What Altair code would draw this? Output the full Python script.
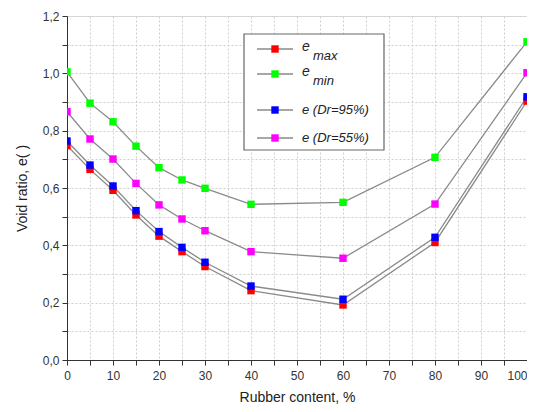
import altair as alt
import pandas as pd

rubber = [0, 5, 10, 15, 20, 25, 30, 40, 60, 80, 100]
e_max = [0.748, 0.665, 0.592, 0.506, 0.432, 0.378, 0.326, 0.242, 0.192, 0.410, 0.903]
e_min = [1.005, 0.896, 0.831, 0.746, 0.671, 0.628, 0.599, 0.543, 0.550, 0.707, 1.110]
e_dr95 = [0.764, 0.680, 0.607, 0.521, 0.448, 0.393, 0.341, 0.258, 0.212, 0.428, 0.918]
e_dr55 = [0.866, 0.771, 0.701, 0.616, 0.541, 0.492, 0.451, 0.378, 0.355, 0.544, 1.002]

series_names = ["e_max", "e_min", "e (Dr=95%)", "e (Dr=55%)"]
series_colors = ["#ff0000", "#00ff00", "#0000ff", "#ff00ff"]
series_values = [e_max, e_min, e_dr95, e_dr55]

rows = []
for order, (name, vals) in enumerate(zip(series_names, series_values)):
    for x, v in zip(rubber, vals):
        rows.append({"series": name, "rubber": x, "e": v, "order": order})
df = pd.DataFrame(rows)

W, H = 460, 344
font = "Liberation Sans"

x_ticks = list(range(0, 101, 5))
y_ticks = [round(i * 0.1, 1) for i in range(0, 13)]

x_enc = alt.X(
    "rubber:Q",
    scale=alt.Scale(domain=[0, 100], nice=False, zero=False),
    axis=alt.Axis(
        values=x_ticks,
        labelExpr="datum.value % 10 == 0 ? datum.label : ''",
        labelAlign=alt.expr("datum.value == 100 ? 'right' : 'center'"),
        title="Rubber content, %",
        grid=True,
        gridDash=[2, 2],
        gridColor="#cfcfcf",
        tickSize=5,
        labelPadding=5,
        titlePadding=9,
        domainColor="#333333",
        tickColor="#333333",
        labelColor="#333333",
        titleColor="#222222",
        labelFontSize=12,
        titleFontSize=14,
        titleFontWeight="normal",
        labelFont=font,
        titleFont=font,
        labelFlush=False,
    ),
)
y_enc = alt.Y(
    "e:Q",
    scale=alt.Scale(domain=[0, 1.2], nice=False, zero=False),
    axis=alt.Axis(
        values=y_ticks,
        labelExpr="(round(datum.value * 10) % 2 == 0) ? replace(format(datum.value, '.1f'), '.', ',') : ''",
        title="Void ratio, e( )",
        grid=True,
        gridDash=[2, 2],
        gridColor="#cfcfcf",
        tickSize=5,
        labelPadding=3,
        titlePadding=13,
        domainColor="#333333",
        tickColor="#333333",
        labelColor="#333333",
        titleColor="#222222",
        labelFontSize=12,
        titleFontSize=14,
        titleFontWeight="normal",
        labelFont=font,
        titleFont=font,
        labelFlush=False,
    ),
)

color_scale = alt.Scale(domain=series_names, range=series_colors)

lines = alt.Chart(df).mark_line(color="#8a8a8a", strokeWidth=1.3, clip=True).encode(
    x=x_enc, y=y_enc, detail="series:N"
)
points = alt.Chart(df).mark_point(
    shape="square", filled=True, size=55, opacity=1, clip=True
).encode(
    x=x_enc,
    y=y_enc,
    color=alt.Color("series:N", scale=color_scale, legend=None),
    order="order:Q",
)

# manual legend (Origin style)
one = pd.DataFrame({"k": [0]})
legend_layers = [
    alt.Chart(one).mark_rect(fill="white", stroke="#666666", strokeWidth=1.2).encode(
        x=alt.value(177), x2=alt.value(317), y=alt.value(18), y2=alt.value(134)
    )
]
row_y = [33, 58, 94, 122]
subs = ["max", "min", None, None]
mains = ["e", "e", "e (Dr=95%)", "e (Dr=55%)"]
for ry, col, main, sub in zip(row_y, series_colors, mains, subs):
    legend_layers.append(
        alt.Chart(one).mark_rule(color="#8a8a8a", strokeWidth=1.3).encode(
            x=alt.value(190), x2=alt.value(226), y=alt.value(ry)
        )
    )
    legend_layers.append(
        alt.Chart(one).mark_point(shape="square", filled=True, size=55, color=col, opacity=1).encode(
            x=alt.value(208), y=alt.value(ry)
        )
    )
    if sub:
        legend_layers.append(
            alt.Chart(one).mark_text(
                text=main, font=font, fontSize=14, fontStyle="italic", align="left",
                baseline="middle", color="#222222"
            ).encode(x=alt.value(235), y=alt.value(ry - 2))
        )
        legend_layers.append(
            alt.Chart(one).mark_text(
                text=sub, font=font, fontSize=13, fontStyle="italic", align="left",
                baseline="middle", color="#222222"
            ).encode(x=alt.value(246), y=alt.value(ry + 7))
        )
    else:
        legend_layers.append(
            alt.Chart(one).mark_text(
                text=main, font=font, fontSize=13, fontStyle="italic", align="left",
                baseline="middle", color="#222222"
            ).encode(x=alt.value(235), y=alt.value(ry))
        )

chart = alt.layer(lines, points, *legend_layers).properties(
    width=W,
    height=H,
    autosize=alt.AutoSizeParams(type="none"),
    padding={"left": 59, "top": 8, "right": 0, "bottom": 44},
).configure_view(stroke="#333333", strokeWidth=1).configure(background="white")

chart.save("out.html", embed_options={"renderer": "svg", "actions": False})
